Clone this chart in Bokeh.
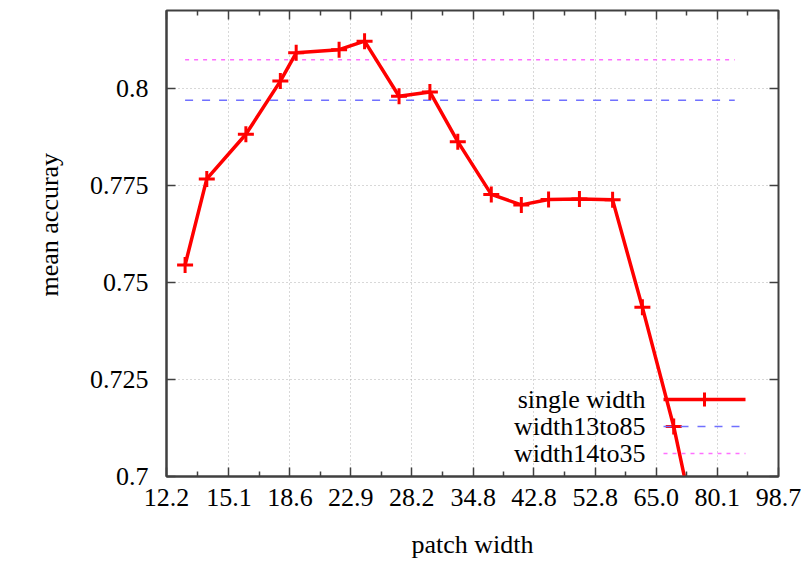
import math
from bokeh.plotting import figure
from bokeh.models import FixedTicker, LogAxis, LinearAxis, Label, Arrow, Range1d, Title
from bokeh.embed import file_html
from bokeh.resources import INLINE

# ---- data ----
patch_width = [13, 14, 16, 18, 19, 22, 24, 27, 30, 33, 37, 41, 45, 50, 56, 62, 69, 77]
single_width = [0.7545, 0.7767, 0.7882, 0.8019, 0.8092, 0.8100, 0.8122, 0.7980, 0.7991,
                0.7863, 0.7727, 0.7700, 0.7714, 0.7715, 0.7713, 0.7436, 0.7129, 0.6740]
multi_x = [13, 85]
width13to85 = [0.7970, 0.7970]
width14to35 = [0.8074, 0.8074]

x_tick_values = [12.2, 15.1, 18.6, 22.9, 28.2, 34.8, 42.8, 52.8, 65.0, 80.1, 98.7]
x_tick_labels = ["12.2", "15.1", "18.6", "22.9", "28.2", "34.8", "42.8", "52.8", "65.0", "80.1", "98.7"]
y_tick_values = [0.7, 0.725, 0.75, 0.775, 0.8]
y_tick_labels = ["0.7", "0.725", "0.75", "0.775", "0.8"]

FONT = "Liberation Serif"
FS = "26px"

x_minor = [math.sqrt(a * b) for a, b in zip(x_tick_values[:-1], x_tick_values[1:])]

p = figure(x_axis_type="log", x_range=Range1d(12.2, 98.7), y_range=Range1d(0.7, 0.8201),
           width=801, height=561,
           min_border_left=166, min_border_right=23, min_border_top=10, min_border_bottom=84,
           output_backend="svg", toolbar_location=None,
           background_fill_color="white", border_fill_color="white")
p.outline_line_color = "#404040"
p.outline_line_width = 2

xt = FixedTicker(ticks=x_tick_values, minor_ticks=x_minor)
yt = FixedTicker(ticks=y_tick_values)

xa = p.xaxis[0]
xa.ticker = xt
xa.major_label_overrides = {v: s for v, s in zip(x_tick_values, x_tick_labels)}
ya = p.yaxis[0]
ya.ticker = yt
ya.major_label_overrides = {v: s for v, s in zip(y_tick_values, y_tick_labels)}

for ax in (xa, ya):
    ax.major_tick_in = 9
    ax.major_tick_out = 0
    ax.minor_tick_in = 5
    ax.minor_tick_out = 0
    ax.major_tick_line_color = "#404040"
    ax.minor_tick_line_color = "#404040"
    ax.major_tick_line_width = 1.5
    ax.minor_tick_line_width = 1.5
    ax.axis_line_color = "#404040"
    ax.axis_line_width = 2
    ax.major_label_text_font = FONT
    ax.major_label_text_font_size = FS
    ax.major_label_text_color = "black"
    ax.axis_label_text_font = FONT
    ax.axis_label_text_font_size = FS
    ax.axis_label_text_font_style = "normal"
    ax.axis_label_text_color = "black"

xa.major_label_standoff = 12
xa.axis_label = "patch width"
xa.axis_label_standoff = 21
ya.major_label_standoff = 18

# y title, placed like the original (a little above the frame's centre)
p.add_layout(Title(text="mean accuray", align="left", offset=180, standoff=42,
                   vertical_align="top",
                   text_font=FONT, text_font_size=FS, text_font_style="normal",
                   text_color="black"), "left")

# mirrored ticks (top and right), no labels
top = LogAxis(ticker=xt, major_label_overrides={v: "" for v in x_tick_values},
              major_label_standoff=0,
              major_tick_in=9, major_tick_out=0, minor_tick_in=5, minor_tick_out=0,
              major_tick_line_color="#404040", minor_tick_line_color="#404040",
              major_tick_line_width=1.5, minor_tick_line_width=1.5, axis_line_color=None)
right = LinearAxis(ticker=yt, major_label_overrides={v: "" for v in y_tick_values},
                   major_label_standoff=0,
                   major_tick_in=9, major_tick_out=0, minor_tick_in=0, minor_tick_out=0,
                   major_tick_line_color="#404040", major_tick_line_width=1.5,
                   minor_tick_line_color=None, axis_line_color=None)
p.add_layout(top, "above")
p.add_layout(right, "right")

for g in (p.xgrid[0], p.ygrid[0]):
    g.grid_line_color = "#b0b0b0"
    g.grid_line_dash = "1 3"
    g.grid_line_width = 1

# series
p.line(multi_x, width13to85, line_color="#7070ff", line_width=1.5, line_dash="8 9")
p.line(multi_x, width14to35, line_color="#ff70ff", line_width=1.5, line_dash="4 5")
p.line(patch_width, single_width, line_color="#ff0000", line_width=3.5)
p.scatter(patch_width, single_width, marker="cross", size=16, line_color="#ff0000", line_width=3)

# legend (label left of sample, gnuplot style), in frame screen units
rows = [("single width", 77), ("width13to85", 50), ("width14to35", 23)]
for txt, yy in rows:
    p.add_layout(Label(x=479, y=yy, x_units="screen", y_units="screen", text=txt,
                       text_align="right", text_baseline="middle",
                       text_font=FONT, text_font_size=FS, text_color="black"))
p.add_layout(Arrow(x_start=497, y_start=77, x_end=579, y_end=77, start_units="screen",
                   end_units="screen", end=None, line_color="#ff0000", line_width=3.5))
p.add_layout(Arrow(x_start=538, y_start=70, x_end=538, y_end=84, start_units="screen",
                   end_units="screen", end=None, line_color="#ff0000", line_width=3))
p.add_layout(Arrow(x_start=497, y_start=50, x_end=579, y_end=50, start_units="screen",
                   end_units="screen", end=None, line_color="#7070ff", line_width=1.5,
                   line_dash="8 9"))
p.add_layout(Arrow(x_start=497, y_start=23, x_end=579, y_end=23, start_units="screen",
                   end_units="screen", end=None, line_color="#ff70ff", line_width=1.5,
                   line_dash="4 5"))

open("out.html", "w").write(file_html(p, INLINE))
